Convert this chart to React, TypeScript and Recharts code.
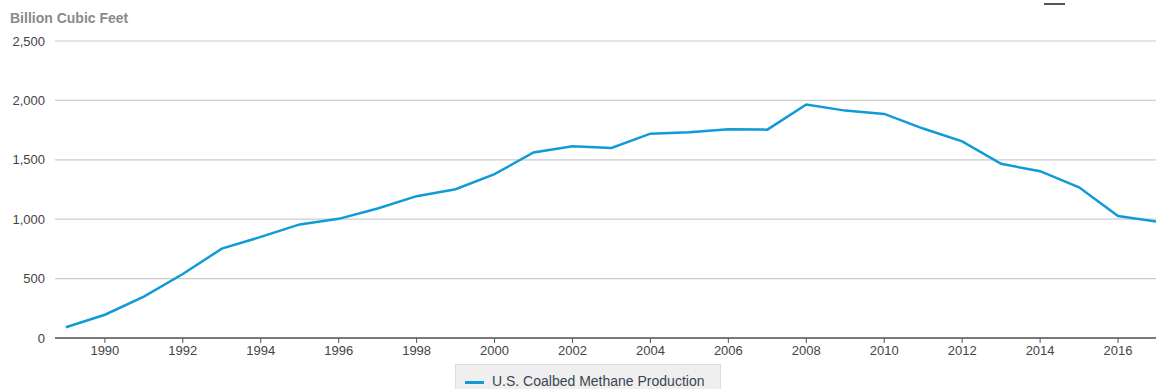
import React from 'react';
import { LineChart, Line, XAxis, YAxis, CartesianGrid } from 'recharts';

const years = [
  1989, 1990, 1991, 1992, 1993, 1994, 1995, 1996, 1997, 1998, 1999, 2000, 2001, 2002, 2003,
  2004, 2005, 2006, 2007, 2008, 2009, 2010, 2011, 2012, 2013, 2014, 2015, 2016, 2017,
];
const production = [
  91, 196, 348, 539, 752, 851, 956, 1003, 1090, 1194, 1252, 1379, 1562, 1614, 1600,
  1720, 1732, 1758, 1754, 1966, 1914, 1886, 1763, 1655, 1466, 1404, 1269, 1026, 980,
];
const xTicks = [1990, 1992, 1994, 1996, 1998, 2000, 2002, 2004, 2006, 2008, 2010, 2012, 2014, 2016];
const yTicks = [0, 500, 1000, 1500, 2000, 2500];

const seriesName = 'U.S. Coalbed Methane Production';
const unitLabel = 'Billion Cubic Feet';

const data = years.map((year, i) => ({ year, value: production[i] }));

const FONT = '"Liberation Sans", Arial, sans-serif';
const LINE_COLOR = '#109bd8';

export default function App() {
  return (
    <div
      style={{
        position: 'absolute',
        left: 0,
        top: 0,
        width: 1156,
        height: 389,
        overflow: 'hidden',
        background: '#fff',
        fontFamily: FONT,
      }}
    >
      <div
        style={{
          position: 'absolute',
          left: 10,
          top: 10,
          fontSize: 14,
          fontWeight: 'bold',
          color: '#8a8a8a',
        }}
      >
        {unitLabel}
      </div>
      <div
        style={{
          position: 'absolute',
          left: 1044,
          top: 3,
          width: 21,
          height: 2,
          background: '#555',
        }}
      />
      <LineChart
        width={1157}
        height={389}
        data={data}
        margin={{ top: 41, right: 0, bottom: 0, left: 0 }}
        style={{ fontFamily: FONT }}
      >
        <CartesianGrid vertical={false} stroke="#cccccc" strokeWidth={1.2} />
        <XAxis
          dataKey="year"
          type="number"
          domain={[1988.72, 2017]}
          allowDataOverflow
          ticks={xTicks}
          height={51}
          tickSize={5}
          tickMargin={3}
          stroke="#555"
          axisLine={{ stroke: '#555', strokeWidth: 1.5 }}
          tick={{ fill: '#444', fontSize: 13 }}
        />
        <YAxis
          domain={[0, 2500]}
          ticks={yTicks}
          width={55}
          axisLine={false}
          tickLine={false}
          tickSize={0}
          tickMargin={10}
          tick={{ fill: '#444', fontSize: 13 }}
          tickFormatter={(v: number) => v.toLocaleString('en-US')}
        />
        <Line
          type="linear"
          dataKey="value"
          name={seriesName}
          stroke={LINE_COLOR}
          strokeWidth={2.5}
          dot={false}
          isAnimationActive={false}
        />
      </LineChart>
      <div
        style={{
          position: 'absolute',
          left: 455,
          top: 364,
          width: 266,
          height: 30,
          background: '#efefef',
          border: '1px solid #dddddd',
          boxSizing: 'border-box',
          display: 'flex',
          alignItems: 'flex-start',
          paddingTop: 8,
          paddingLeft: 9,
        }}
      >
        <div style={{ width: 19, height: 3, background: LINE_COLOR, marginTop: 8, marginRight: 8 }} />
        <span style={{ fontSize: 14, color: '#3a4553' }}>{seriesName}</span>
      </div>
    </div>
  );
}
